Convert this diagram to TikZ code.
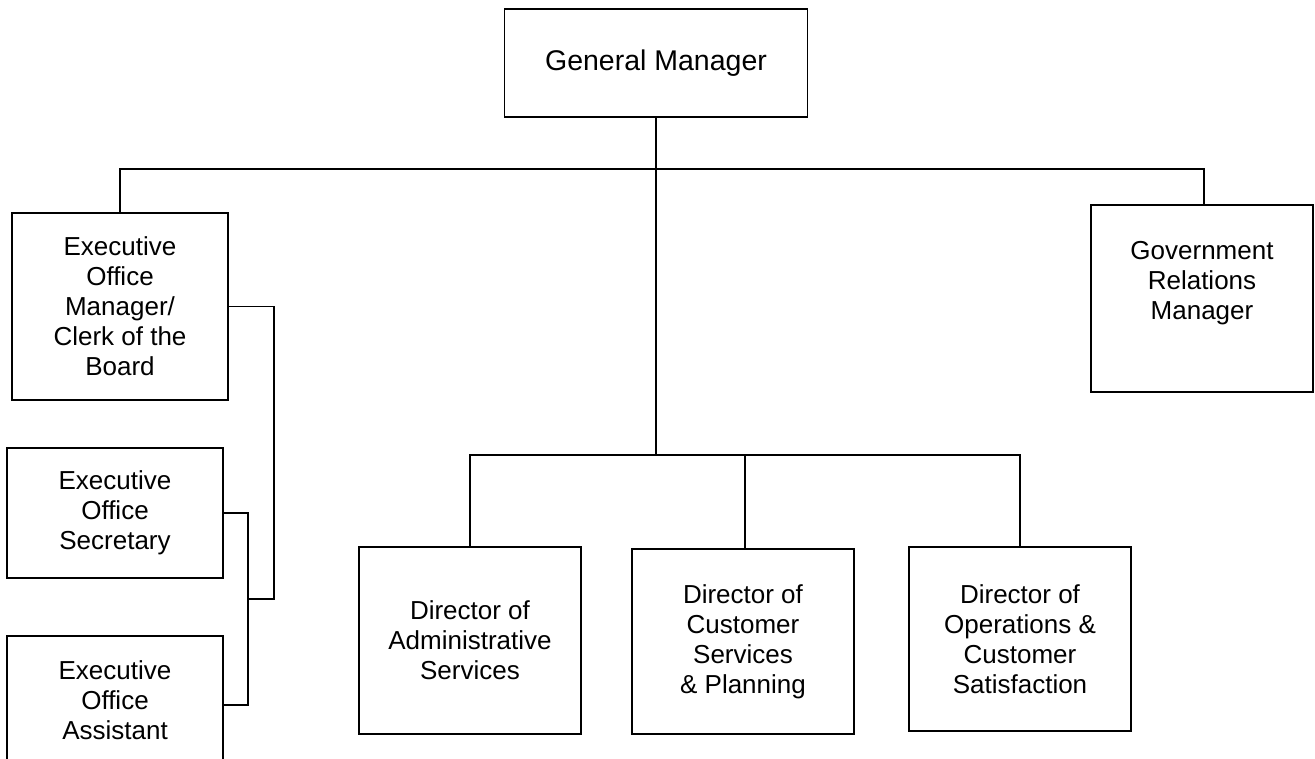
\documentclass[tikz,border=0pt]{standalone}
\usepackage{fontspec}
\setmainfont{Liberation Sans}
\begin{document}
\begin{tikzpicture}[x=1pt,y=-1pt,
  txt/.style={align=center, inner sep=0pt, font=\fontsize{26}{30}\selectfont},
  box/.style={txt, draw, line width=1.8pt, rectangle},
  link/.style={draw, line width=1.7pt}]
\useasboundingbox (0,0) rectangle (1315,759);
\clip (0,0) rectangle (1315,759);

% top level
\node[box, minimum width=303pt, minimum height=108pt,
      font=\fontsize{28.5}{33}\selectfont] (gm) at (656,63) {General Manager};

% executive office
\node[box, minimum width=216pt, minimum height=187pt] (eom) at (120,306.5)
  {Executive\\Office\\Manager/\\Clerk of the\\Board};
\node[box, minimum width=216pt, minimum height=130pt] (sec) at (115,513)
  {Executive\\Office\\Secretary};
\node[box, minimum width=216pt, minimum height=128pt] (asst) at (115,700)
  {Executive\\Office\\Assistant};

% government relations
\node[box, minimum width=222pt, minimum height=187pt] (gov) at (1202,298.5) {};
\node[txt] (govtext) at (1202,283) {Government\\Relations\\Manager};

% directors
\node[box, minimum width=222pt, minimum height=187pt] (adm) at (470,640.5)
  {Director of\\Administrative\\Services};
\node[box, minimum width=222pt, minimum height=185pt] (cust) at (743,641.5)
  {Director of\\Customer\\Services\\\& Planning};
\node[box, minimum width=222pt, minimum height=184pt] (ops) at (1020,639)
  {Director of\\Operations \&\\Customer\\Satisfaction};

% bus lines
\coordinate (tb) at (0,169);
\coordinate (db) at (0,455);
\coordinate (eomturn) at (274,599);
\coordinate (join) at (248,599);

\path[link] (gm.south) -- (gm.south |- db);
\path[link] (eom.north) -- (eom.north |- tb) -- ([xshift=2pt]gov.north |- tb) -- ([xshift=2pt]gov.north);
\path[link] (adm.north) -- (adm.north |- db) -- (ops.north |- db) -- (ops.north);
\path[link] ([xshift=2pt]cust.north) -- ([xshift=2pt]cust.north |- db);

% executive office staff links
\path[link] (eom.east) -| (eomturn) -- (join);
\path[link] (sec.east) -| (join) |- ([yshift=-5pt]asst.east);
\end{tikzpicture}
\end{document}
